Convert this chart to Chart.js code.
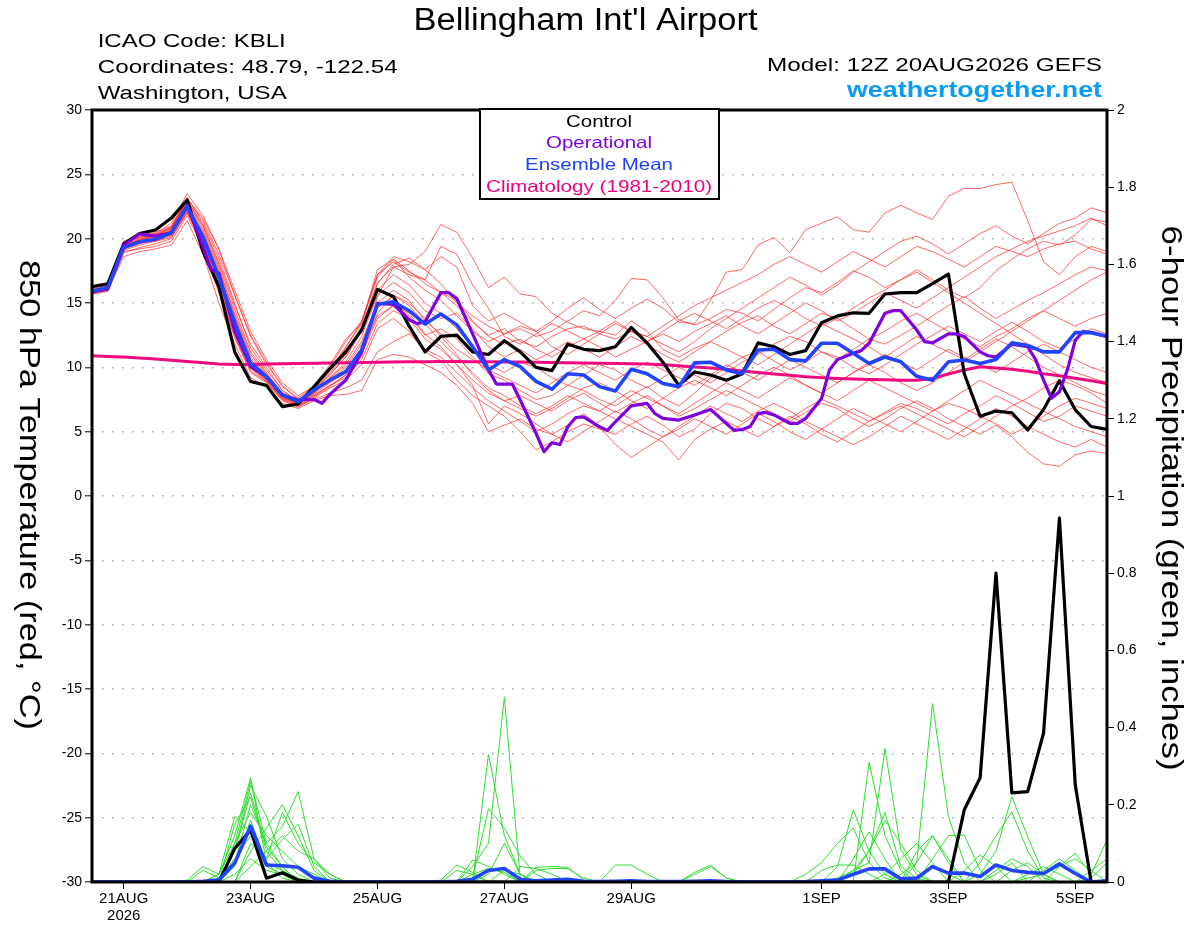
<!DOCTYPE html>
<html><head><meta charset="utf-8">
<script src="https://cdn.jsdelivr.net/npm/chart.js@4.4.1/dist/chart.umd.min.js"></script>
<style>html,body{margin:0;padding:0;background:#fff;overflow:hidden}canvas{display:block}</style>
</head><body>
<canvas id="c" width="1200" height="927" style="width:1200px;height:927px"></canvas>
<script>
// ---------- DATA (6-hourly steps from 12Z 20AUG2026) ----------
const steps = Array.from({length:65}, (_, i) => i);
const tickSteps = [2, 10, 18, 26, 34, 46, 54, 62];
const tickLabels = [['21AUG','2026'], '23AUG', '25AUG', '27AUG', '29AUG', '1SEP', '3SEP', '5SEP'];

const controlTemp = [16.27,16.5,19.6,20.4,20.67,21.6,23.0,19.0,16.27,11.2,
 8.9,8.6,6.95,7.15,8.5,9.9,11.2,12.9,16.05,15.5,
 13.2,11.2,12.4,12.5,11.2,11.0,12.07,11.2,10.0,9.74,
 11.8,11.4,11.3,11.6,13.1,11.9,10.4,8.6,9.64,9.4,
 9.0,9.5,11.9,11.6,11.0,11.3,13.46,14.0,14.24,14.2,
 15.7,15.8,15.8,16.5,17.25,9.5,6.2,6.6,6.47,5.13,
 6.73,8.96,6.7,5.4,5.17];
const meanTemp = [15.93,16.2,19.3,19.76,19.95,20.46,22.5,20.15,17.0,13.5,
 10.3,9.27,7.85,7.33,8.24,9.0,9.66,11.35,14.9,15.1,
 14.4,13.36,14.14,13.3,11.6,9.8,10.6,10.05,8.9,8.3,
 9.5,9.4,8.5,8.16,9.85,9.5,8.75,8.5,10.35,10.4,
 9.8,9.5,11.35,11.4,10.6,10.5,11.87,11.87,11.1,10.3,
 10.8,10.43,9.3,9.0,10.43,10.57,10.3,10.6,11.9,11.7,
 11.2,11.2,12.7,12.7,12.4];
const climTemp = [10.9,10.85,10.8,10.72,10.65,10.55,10.45,10.35,10.25,10.22,
 10.22,10.25,10.28,10.3,10.32,10.34,10.35,10.37,10.39,10.41,
 10.43,10.44,10.45,10.45,10.44,10.43,10.42,10.41,10.4,10.38,
 10.36,10.34,10.32,10.3,10.28,10.25,10.2,10.12,10.03,9.94,
 9.85,9.72,9.6,9.48,9.38,9.27,9.2,9.14,9.1,9.06,
 9.03,9.0,9.0,9.14,9.48,9.8,10.05,9.95,9.85,9.7,
 9.5,9.35,9.15,8.95,8.75];
const opSteps = [0,1,2,3,4,5,6,7,7.5,8,9,10,11,12,13,14,14.5,15,16,17,18,19,20,20.5,21,22,22.5,23,24,25,25.5,26,26.5,27,28,28.5,29,29.5,30,30.5,31,32,32.5,33,34,35,35.5,36,37,38,39,40,40.5,41,41.5,42,42.5,43,44,44.5,45,46,46.5,47,48,48.5,49,50,50.5,51,52,52.5,53,54,54.5,55,56,56.5,57,58,59,59.5,60,60.5,61,61.5,62,62.5,63,64];
const opTemp = [15.87,16.1,19.5,20.36,20.2,20.46,22.6,19.4,17.6,17.3,12.8,10.05,9.27,7.85,7.46,7.5,7.2,7.9,9.0,11.2,14.97,14.9,13.7,13.4,13.55,15.8,15.8,15.35,12.6,9.8,8.7,8.7,8.7,7.46,4.87,3.44,4.14,4.0,5.38,6.1,6.15,5.38,5.1,5.77,7.0,7.2,6.4,6.03,5.9,6.3,6.73,5.64,5.1,5.17,5.4,6.4,6.5,6.3,5.64,5.64,6.03,7.58,9.8,10.6,11.1,11.3,11.87,14.2,14.4,14.4,12.9,12.0,11.9,12.6,12.6,12.4,11.2,10.9,10.8,11.8,11.6,10.6,9.0,7.6,8.1,9.8,12.1,12.8,12.7,12.4];

const ensT01 = [15.8,16.1,19.3,19.8,20.0,20.4,22.4,20.0,16.8,13.2, 10.2,9.0,7.6,7.2,8.0,9.0,9.8,11.5,14.0,14.8, 14.0,12.5,13.0,12.2,10.8,9.5,9.0,8.2,7.5,7.8, 8.6,8.2,7.5,7.0,7.8,8.5,7.6,7.0,8.0,9.2, 10.0,10.8,11.2,10.5,9.8,10.4,11.2,10.8,10.0,9.5, 10.2,11.0,11.8,12.5,13.2,12.6,12.0,12.8,13.5,12.8, 12.0,11.5,12.2,13.0,12.6];
const ensT02 = [16.0,16.3,19.6,20.2,20.5,21.0,23.2,21.2,18.5,15.0, 11.5,9.8,8.2,7.3,7.8,8.6,9.4,10.8,15.5,17.8, 18.0,19.0,21.1,20.5,18.5,16.2,17.0,15.7,15.5,14.2, 13.5,13.0,12.8,12.5,13.6,12.8,11.4,10.8,11.5,12.0, 12.8,13.5,14.0,13.2,12.6,13.4,14.2,13.8,13.0,12.2, 11.8,12.5,13.2,14.0,14.8,15.5,14.6,13.8,14.5,15.2, 15.8,16.5,17.2,17.8,17.5];
const ensT03 = [15.9,16.2,19.8,20.3,20.4,21.2,23.5,21.8,19.2,16.0, 12.8,10.6,8.8,7.8,8.5,10.0,12.0,13.6,17.0,18.4, 17.5,16.5,15.8,14.8,13.5,12.5,13.0,12.0,11.6,12.4, 13.0,13.2,12.6,12.2,12.8,12.4,11.8,11.2,12.0,13.0, 13.8,14.6,15.4,16.2,17.0,16.4,15.6,16.4,17.4,18.2, 19.0,19.8,20.2,19.6,18.8,19.6,20.4,21.0,20.2,19.6, 20.4,21.2,21.6,22.4,22.0];
const ensT04 = [15.8,16.1,19.4,19.9,20.1,20.7,22.9,20.8,17.8,14.0, 10.8,9.4,7.9,7.1,8.3,9.6,11.0,13.2,16.5,18.0, 18.5,17.6,16.5,15.0,14.0,13.2,12.6,13.0,12.4,12.8, 13.6,14.4,14.0,15.2,16.9,16.8,15.4,13.7,13.3,13.8, 14.5,14.2,13.6,14.5,15.4,16.2,15.8,16.6,17.5,17.0, 16.2,16.8,17.6,16.8,16.0,15.4,16.2,17.5,18.4,19.2, 19.8,19.5,20.3,21.5,21.3];
const ensT05 = [15.7,16.0,19.0,19.2,19.4,19.8,21.8,19.3,15.8,12.3, 9.6,8.8,7.4,6.9,7.6,8.4,9.0,10.2,13.0,13.8, 12.8,11.2,10.5,9.0,7.8,7.0,6.2,5.0,3.6,4.2, 5.0,5.6,5.2,4.8,5.6,6.2,5.5,4.6,5.2,6.4, 7.2,6.8,6.0,5.4,6.0,6.8,7.5,7.0,6.4,5.8, 6.5,7.2,6.8,6.2,5.6,6.4,7.0,7.8,7.2,6.5, 5.8,6.2,7.0,6.6,6.2];
const ensT06 = [15.8,16.0,18.6,19.0,19.2,19.5,21.4,18.8,15.0,11.8, 9.2,8.5,7.2,6.8,7.4,7.8,7.9,8.2,10.6,11.0, 10.8,10.2,9.6,8.6,7.2,5.0,5.5,6.0,5.2,4.8, 5.5,6.4,5.4,4.0,3.0,3.8,4.6,5.2,6.0,5.4, 4.8,5.6,6.4,5.8,5.0,4.4,5.2,6.0,6.8,6.2, 5.6,5.0,5.8,6.6,7.2,6.8,6.2,5.6,4.8,5.4, 6.2,7.0,7.6,7.2,6.8];
const ensT07 = [16.1,16.4,19.7,20.1,20.3,20.8,23.0,21.0,18.0,14.5, 11.2,9.6,8.0,7.3,8.2,9.5,10.8,12.8,16.0,17.2, 16.4,15.0,14.2,13.0,11.6,10.2,9.6,10.4,10.0,9.2, 8.6,9.4,10.2,9.8,9.0,8.4,9.2,10.0,9.4,8.8, 9.6,10.4,11.0,11.8,12.4,12.0,11.2,10.6,11.4,12.2, 12.8,13.6,14.2,13.5,12.8,12.2,11.6,12.4,13.0,13.8, 14.4,13.8,13.2,13.8,14.2];
const ensT08 = [15.9,16.1,19.2,19.6,19.9,20.3,22.2,19.8,16.4,12.8, 10.0,9.0,7.6,7.0,7.8,8.6,9.2,10.6,13.4,14.4, 13.8,12.2,11.4,10.2,9.0,8.0,7.4,7.8,7.2,6.6, 7.4,8.0,7.2,6.5,7.2,7.8,7.0,6.2,6.8,7.5, 8.2,7.6,7.0,6.4,5.8,6.5,7.2,6.8,6.0,5.4, 6.0,6.8,7.4,6.8,6.0,5.4,4.8,5.5,4.6,3.4, 2.5,2.3,3.2,3.5,3.3];
const ensT09 = [15.9,16.3,19.5,20.0,20.2,20.8,23.1,21.4,18.8,15.6, 12.5,10.4,8.5,7.5,8.4,9.8,11.5,13.6,17.2,18.6, 18.2,17.6,18.6,17.8,14.8,13.6,14.2,13.5,12.8,13.6, 14.6,15.4,14.5,13.8,14.6,15.3,14.6,13.5,13.4,15.2, 17.4,17.6,19.5,20.1,18.9,20.7,21.2,21.7,20.7,20.5, 22.0,22.6,22.0,21.5,23.3,23.9,23.9,24.2,24.4,21.4, 18.2,17.2,18.6,19.4,19.0];
const ensT10 = [15.8,16.2,19.4,19.7,19.8,20.2,22.0,19.6,16.2,12.6, 9.9,8.9,7.5,7.0,7.7,8.5,9.4,11.0,14.2,15.6, 15.0,13.8,12.4,11.0,9.4,8.2,7.4,6.8,6.2,6.8, 7.6,8.4,8.8,8.2,7.4,6.8,7.6,8.4,9.0,8.4, 7.8,8.6,9.4,10.0,9.4,8.6,8.0,8.8,9.6,10.2, 9.6,8.8,8.2,8.8,9.6,10.4,11.2,12.0,12.8,13.6, 14.4,15.2,16.0,16.8,17.4];
const ensT11 = [16.0,16.2,19.5,19.9,20.2,20.6,22.6,20.4,17.4,13.8, 10.6,9.3,7.8,7.2,8.0,9.2,10.4,12.4,15.6,16.6, 15.8,14.4,13.8,14.2,13.0,11.6,10.8,11.4,10.6,11.2, 12.0,11.4,10.8,11.6,12.4,11.8,11.0,10.4,11.2,12.0, 11.4,10.8,10.2,11.0,11.8,12.6,13.4,12.8,12.2,11.6, 10.8,11.6,12.4,11.8,11.2,10.6,11.4,12.2,11.6,10.8, 10.0,9.4,8.8,8.2,7.8];
const ensT12 = [15.7,15.9,18.9,19.3,19.6,20.0,22.0,19.6,16.0,12.4, 9.7,8.9,7.5,7.0,7.5,8.0,8.4,9.0,11.2,12.0, 12.6,11.4,10.8,9.6,8.4,7.4,6.6,5.8,5.0,5.6, 6.4,7.0,6.6,6.0,5.4,4.8,4.2,2.8,4.4,5.2, 5.8,5.2,4.6,5.4,6.2,5.6,4.8,4.2,5.0,5.8, 6.4,7.0,6.4,5.8,5.2,4.6,5.4,6.2,7.0,7.6, 8.4,9.0,8.6,8.0,7.2];
const ensT13 = [16.0,16.3,19.7,20.1,20.4,20.9,23.1,21.6,19.2,15.6, 12.4,10.2,8.6,7.6,8.6,10.2,12.2,13.4,17.6,18.4, 17.0,16.0,15.2,14.0,12.8,12.0,12.6,13.2,12.8,11.6, 11.0,11.8,12.6,13.4,12.8,12.0,12.8,13.6,14.2,13.6, 13.0,13.8,14.6,15.2,14.6,13.8,13.2,13.8,14.6,15.4, 16.0,16.8,17.4,16.6,15.8,15.0,14.2,13.4,12.6,11.8, 11.0,10.2,9.6,9.2,8.8];
const ensT14 = [15.8,16.0,19.1,19.5,19.8,20.1,22.1,19.9,16.6,13.0, 10.0,9.1,7.7,7.1,7.9,8.8,9.6,11.0,13.8,14.8, 14.2,12.6,11.6,10.2,8.6,5.6,7.0,6.4,5.6,4.8, 4.2,5.0,5.8,6.6,6.0,5.2,4.6,5.4,6.2,7.0, 6.4,5.8,6.6,7.2,6.6,5.8,5.2,4.6,4.0,4.6, 5.4,6.2,5.6,5.0,4.4,5.2,6.0,6.8,6.2,5.4, 4.8,4.2,3.8,4.4,3.8];
const ensT15 = [15.9,16.2,19.6,20.1,20.3,20.9,23.0,21.0,18.2,14.8, 11.8,10.0,8.2,7.4,8.2,9.4,10.8,13.0,16.6,17.8, 17.2,16.8,15.8,15.2,13.6,12.4,11.8,12.2,11.4,10.8, 11.6,12.2,11.6,10.8,11.4,12.0,12.6,12.0,12.8,13.4, 14.0,13.2,12.6,13.4,14.2,15.0,14.4,13.6,14.2,15.0, 15.8,15.2,14.6,15.4,16.2,17.0,17.8,18.6,19.2,19.8, 20.2,20.6,21.0,21.6,21.0];
const ensT16 = [15.8,16.1,19.2,19.7,20.0,20.3,22.3,20.2,17.0,13.4, 10.4,9.2,7.7,7.2,8.1,9.1,10.0,11.8,14.6,15.6, 14.8,13.4,12.0,10.8,9.6,8.4,7.8,7.0,6.4,7.0, 7.8,7.2,6.6,7.4,8.2,7.6,7.0,6.4,7.2,8.0, 8.8,8.2,7.6,8.4,9.2,8.6,8.0,7.4,8.2,9.0, 8.4,7.8,7.2,6.6,7.4,8.2,9.0,8.4,7.8,7.2, 6.6,6.0,5.4,5.0,4.6];
const ensT17 = [16.0,16.2,19.5,19.9,20.2,20.8,22.8,20.6,17.6,14.2, 11.0,9.5,8.0,7.4,8.4,9.8,11.6,13.4,17.2,18.2, 17.4,16.8,19.4,18.8,16.4,14.6,12.4,11.8,12.6,13.4, 12.8,12.2,12.8,13.6,12.8,12.4,13.2,14.0,14.8,15.4, 16.0,16.6,17.2,18.0,18.6,18.0,17.4,18.2,19.0,18.4, 17.8,18.6,19.4,19.0,18.4,17.8,18.6,19.4,19.0,18.6, 19.2,19.6,19.8,19.2,18.8];
const ensT18 = [15.9,16.1,19.3,19.8,20.0,20.5,22.5,20.3,17.2,13.6, 10.6,9.4,7.8,7.2,8.0,9.2,10.2,12.0,15.0,16.0, 15.2,13.6,12.6,11.4,10.6,9.8,9.2,8.6,8.0,8.8, 9.6,10.2,9.6,9.0,9.8,10.4,9.8,9.2,8.6,9.4, 10.2,9.6,9.0,9.8,10.6,10.0,9.4,8.8,9.6,10.4, 11.0,10.4,9.8,10.6,11.4,10.8,10.2,9.6,10.4,11.2, 11.8,11.2,10.6,10.0,9.6];

// 6-hour precipitation (inches)
const controlPrcp = [0,0,0,0,0,0,0,0,0,0.087, 0.135,0.01,0.024,0.005,0,0,0,0,0,0, 0,0,0,0,0,0,0,0,0,0, 0,0,0,0,0,0,0,0,0,0, 0,0,0,0,0,0,0,0,0,0, 0,0,0,0,0,0.187,0.27,0.8,0.231,0.234, 0.386,0.943,0.251,0,0];
const meanPrcp = [0,0,0,0,0,0,0,0.002,0.005,0.049, 0.145,0.044,0.042,0.038,0.01,0.002,0,0,0,0, 0,0,0,0.002,0.007,0.03,0.035,0.007,0.003,0.005, 0.007,0.002,0.001,0.002,0.003,0.001,0.001,0.001,0.002,0.003, 0.001,0,0,0,0,0.001,0.003,0.005,0.02,0.034, 0.034,0.008,0.01,0.04,0.023,0.023,0.014,0.044,0.03,0.025, 0.022,0.047,0.022,0,0.003];
const ensP01 = [0,0,0,0,0,0,0,0,0.02,0.12, 0.27,0.05,0.01,0,0,0,0,0,0,0, 0,0,0,0,0,0.33,0.12,0.02,0,0, 0,0,0,0,0,0,0,0,0,0, 0,0,0,0,0,0,0,0,0,0.31, 0.12,0.03,0,0,0,0,0,0.02,0.05,0, 0,0,0,0,0];
const ensP02 = [0,0,0,0,0,0,0,0,0,0.15, 0.22,0.08,0.03,0,0,0,0,0,0,0, 0,0,0,0,0.04,0.1,0.478,0.01,0,0, 0,0,0,0,0,0,0,0,0,0, 0,0,0,0,0,0,0,0,0,0, 0,0,0.05,0.463,0.17,0.05,0,0,0,0, 0,0,0,0,0];
const ensP03 = [0,0,0,0,0,0,0,0.03,0.01,0.08, 0.25,0.17,0.06,0.02,0,0,0,0,0,0, 0,0,0,0,0.01,0.19,0.14,0.067,0.02,0, 0,0,0,0,0,0,0,0,0,0, 0,0,0,0,0,0,0,0.04,0.187,0.08, 0.02,0,0,0,0,0,0.02,0.08,0.221,0.117, 0.02,0,0,0,0];
const ensP04 = [0,0,0,0,0,0,0,0,0,0.05, 0.2,0.1,0.143,0.234,0.06,0.01,0,0,0,0, 0,0,0,0,0,0,0,0,0.038,0.04, 0.038,0.005,0,0,0,0,0,0,0,0, 0,0,0,0,0,0,0,0,0.03,0.05, 0.346,0.083,0.02,0,0,0,0,0,0,0, 0,0,0,0,0];
const ensP05 = [0,0,0,0,0,0,0.005,0.04,0.02,0.17, 0.13,0.04,0.02,0,0,0,0,0,0,0, 0,0,0,0.03,0.02,0,0,0,0,0, 0,0,0,0.044,0.044,0.02,0,0,0,0, 0,0,0,0,0,0,0,0,0.02,0.08, 0.18,0.04,0.01,0,0,0,0,0,0,0.01, 0.02,0.04,0.075,0.02,0.109];
const ensP06 = [0,0,0,0,0,0,0,0,0,0.1, 0.18,0.12,0.08,0.04,0.02,0,0,0,0,0, 0,0,0.005,0.044,0.025,0,0,0,0,0, 0,0,0,0,0,0,0,0,0,0, 0,0,0,0,0,0.02,0.05,0.1,0.14,0.05, 0.01,0,0,0,0,0,0.05,0.12,0.182,0.08, 0.01,0,0,0,0];
const ensP07 = [0,0,0,0,0,0,0,0,0.01,0.06, 0.12,0.06,0.11,0.15,0.04,0,0,0,0,0, 0,0,0,0,0.057,0.04,0.02,0,0,0, 0,0,0,0,0,0,0,0,0,0, 0,0,0,0,0,0,0,0,0,0, 0,0.02,0.05,0.12,0.05,0,0,0,0,0, 0.03,0.06,0.03,0,0];
const ensP08 = [0,0,0,0,0,0,0,0,0,0.04, 0.16,0.05,0.03,0.01,0,0,0,0,0,0, 0,0,0,0,0,0,0,0,0,0, 0,0,0,0,0,0,0,0,0.025,0.044, 0.01,0,0,0,0,0,0,0,0,0, 0,0,0,0.06,0.12,0.122,0.03,0,0,0, 0,0,0,0,0];
const ensP09 = [0,0,0,0,0,0,0,0,0,0, 0.1,0.06,0.18,0.1,0.05,0.02,0,0,0,0, 0,0,0,0,0,0,0,0,0.03,0.035, 0.035,0.01,0,0,0,0,0,0,0,0, 0,0,0,0,0,0,0.03,0.044,0.044,0.02, 0,0,0,0,0,0,0,0.03,0.06,0.04, 0,0,0,0,0];
const ensP10 = [0,0,0,0,0,0,0,0,0,0.08, 0.23,0.09,0.04,0,0,0,0,0,0,0, 0,0,0,0,0,0.02,0.1,0.02,0,0, 0,0,0,0,0,0,0,0,0,0, 0,0,0,0,0,0,0,0,0,0, 0,0,0.08,0.12,0.06,0,0,0,0,0, 0,0.04,0.06,0.03,0];
const ensP11 = [0,0,0,0,0,0,0,0,0,0, 0.08,0.14,0.2,0.12,0.03,0,0,0,0,0, 0,0,0,0,0,0,0,0.04,0.035,0.02, 0,0,0,0,0,0,0,0,0,0, 0,0,0,0,0,0,0,0,0.06,0.13, 0.06,0,0,0,0,0.03,0.07,0.04,0,0, 0,0,0,0,0];
const ensP12 = [0,0,0,0,0,0,0,0,0,0.02, 0.06,0.03,0.02,0,0,0,0,0,0,0, 0,0,0,0,0,0,0.03,0.02,0,0, 0,0,0,0,0,0,0,0,0,0, 0,0,0,0,0,0,0,0,0,0, 0.02,0.06,0.1,0.05,0,0,0,0,0,0.02, 0.04,0.02,0,0.01,0.05];
const ensP13 = [0,0,0,0,0,0,0,0,0.02,0.1, 0.26,0.1,0.04,0,0,0,0,0,0,0, 0,0,0,0,0,0,0,0,0,0, 0,0,0,0,0,0,0,0,0,0, 0,0,0,0,0,0,0,0.01,0.03,0.08, 0.16,0.1,0.03,0,0,0,0,0,0,0, 0,0,0,0.03,0.06];
const ensP14 = [0,0,0,0,0,0,0,0,0,0, 0.04,0.08,0.12,0.08,0.06,0.02,0,0,0,0, 0,0,0,0,0.02,0.035,0.025,0,0,0, 0,0,0,0,0,0,0,0,0.02,0.04, 0.01,0,0,0,0,0,0,0,0,0, 0,0,0,0.04,0.02,0,0,0,0.03,0.05, 0.02,0,0,0,0];

const memberTemps = [ensT01,ensT02,ensT03,ensT04,ensT05,ensT06,ensT07,ensT08,ensT09,ensT10,ensT11,ensT12,ensT13,ensT14,ensT15,ensT16,ensT17,ensT18];
const memberPrcps = [ensP01,ensP02,ensP03,ensP04,ensP05,ensP06,ensP07,ensP08,ensP09,ensP10,ensP11,ensP12,ensP13,ensP14];

// ---------- CHART ----------
const FONT = "'Liberation Sans', Arial, Helvetica, sans-serif";
const C_CTRL = '#000000', C_OPER = '#8000dd', C_MEAN = '#2244ff', C_CLIM = '#f0087f';
const C_RED = 'rgba(255,45,45,0.72)', C_GREEN = 'rgb(45,222,45)';

const datasets = [];
datasets.push({label:'Ensemble Mean', data: meanTemp, borderColor: C_MEAN, borderWidth: 3.6, yAxisID:'y', order:1});
datasets.push({label:'Operational', data: opSteps.map((s,i)=>({x:s, y:opTemp[i]})), borderColor: C_OPER, borderWidth: 3.2, yAxisID:'y', order:2});
datasets.push({label:'Control', data: controlTemp, borderColor: C_CTRL, borderWidth: 3.2, yAxisID:'y', order:3});
datasets.push({label:'Climatology', data: climTemp, borderColor: C_CLIM, borderWidth: 3, yAxisID:'y', order:4});
datasets.push({label:'Mean precip', data: meanPrcp, borderColor: C_MEAN, borderWidth: 3.6, yAxisID:'y2', order:1});
datasets.push({label:'Control precip', data: controlPrcp, borderColor: C_CTRL, borderWidth: 3.2, yAxisID:'y2', order:3});
memberTemps.forEach((d,i)=>datasets.push({label:'T'+(i+1), data:d, borderColor:C_RED, borderWidth:1, yAxisID:'y', order:10}));
memberPrcps.forEach((d,i)=>datasets.push({label:'P'+(i+1), data:d, borderColor:C_GREEN, borderWidth:1, yAxisID:'y2', order:10}));

function fitText(ctx, text, x, y, font, color, target, align, rot){
  ctx.save();
  ctx.font = font;
  const w = ctx.measureText(text).width;
  ctx.translate(x, y);
  if (rot) ctx.rotate(rot);
  ctx.scale(target / w, 1);
  ctx.textAlign = align;
  ctx.textBaseline = 'alphabetic';
  ctx.fillStyle = color;
  ctx.fillText(text, 0, 0);
  ctx.restore();
}

const overlay = {
  id: 'overlay',
  afterDraw(chart){
    const ctx = chart.ctx, a = chart.chartArea;
    ctx.save();
    ctx.strokeStyle = '#000'; ctx.lineWidth = 3;
    ctx.strokeRect(a.left, a.top, a.right - a.left, a.bottom - a.top);
    // legend box
    ctx.fillStyle = '#fff'; ctx.fillRect(480, 109, 239, 90);
    ctx.lineWidth = 2; ctx.strokeRect(480, 109, 239, 90);
    ctx.restore();
    const lf = '16.5px ' + FONT;
    fitText(ctx, 'Control', 599, 126.7, lf, C_CTRL, 66, 'center');
    fitText(ctx, 'Operational', 599, 148.3, lf, '#8000e0', 106, 'center');
    fitText(ctx, 'Ensemble Mean', 599, 170, lf, '#2040ff', 148, 'center');
    fitText(ctx, 'Climatology (1981-2010)', 599, 191.7, lf, '#f0007f', 226, 'center');
    // header
    fitText(ctx, "Bellingham Int'l Airport", 585.5, 29.5, '31px ' + FONT, '#000', 344, 'center');
    fitText(ctx, 'ICAO Code: KBLI', 97.7, 46.7, '18.5px ' + FONT, '#000', 188, 'left');
    fitText(ctx, 'Coordinates: 48.79, -122.54', 97.7, 72.7, '18.5px ' + FONT, '#000', 300, 'left');
    fitText(ctx, 'Washington, USA', 97.7, 99.3, '18.5px ' + FONT, '#000', 189, 'left');
    fitText(ctx, 'Model: 12Z 20AUG2026 GEFS', 1102, 70.7, '18.5px ' + FONT, '#000', 335, 'right');
    fitText(ctx, 'weathertogether.net', 1102, 96.7, 'bold 21.5px ' + FONT, '#0a9cf5', 255, 'right');
    // axis titles (reading top to bottom)
    fitText(ctx, '850 hPa Temperature (red, \u00B0C)', 20, 495, '30px ' + FONT, '#000', 470, 'center', Math.PI/2);
    fitText(ctx, '6-hour Precipitation (green, inches)', 1162, 498, '30px ' + FONT, '#000', 545, 'center', Math.PI/2);
  }
};

new Chart(document.getElementById('c'), {
  type: 'line',
  data: { labels: steps, datasets },
  options: {
    responsive: false, animation: false, devicePixelRatio: 1,
    layout: { padding: { top: 110, left: 0, right: 0, bottom: 0 } },
    plugins: { legend: { display: false }, tooltip: { enabled: false } },
    elements: { point: { radius: 0 }, line: { tension: 0, borderJoinStyle: 'round', borderCapStyle: 'round' } },
    scales: {
      x: {
        type: 'linear', min: 0, max: 64,
        afterBuildTicks: s => { s.ticks = tickSteps.map(v => ({ value: v })); },
        afterFit: s => { s.height = 45; },
        grid: { drawOnChartArea: false, drawTicks: true, tickLength: 7, color: '#000', lineWidth: 1 },
        border: { display: false },
        ticks: { autoSkip: false, maxRotation: 0, padding: 1, color: '#000',
          font: { family: FONT, size: 15, lineHeight: 1.15 },
          callback: v => { const k = tickSteps.indexOf(v); return k >= 0 ? tickLabels[k] : ''; } }
      },
      y: {
        position: 'left', min: -30, max: 30,
        afterFit: s => { s.width = 92; },
        ticks: { stepSize: 5, padding: 3, color: '#000', font: { family: FONT, size: 14 },
          callback: v => String(v) },
        grid: { color: '#a8a8a8', lineWidth: 1.6, tickColor: '#000', tickLength: 7, tickWidth: 1 },
        border: { display: false, dash: [1.6, 8.4] }
      },
      y2: {
        position: 'right', min: 0, max: 2,
        afterFit: s => { s.width = 93; },
        ticks: { stepSize: 0.2, padding: 3, color: '#000', font: { family: FONT, size: 14 },
          callback: v => String(Math.round(v * 10) / 10) },
        grid: { drawOnChartArea: false, color: '#000', tickLength: 7, tickWidth: 1 },
        border: { display: false }
      }
    }
  },
  plugins: [overlay]
});
</script>
</body></html>
